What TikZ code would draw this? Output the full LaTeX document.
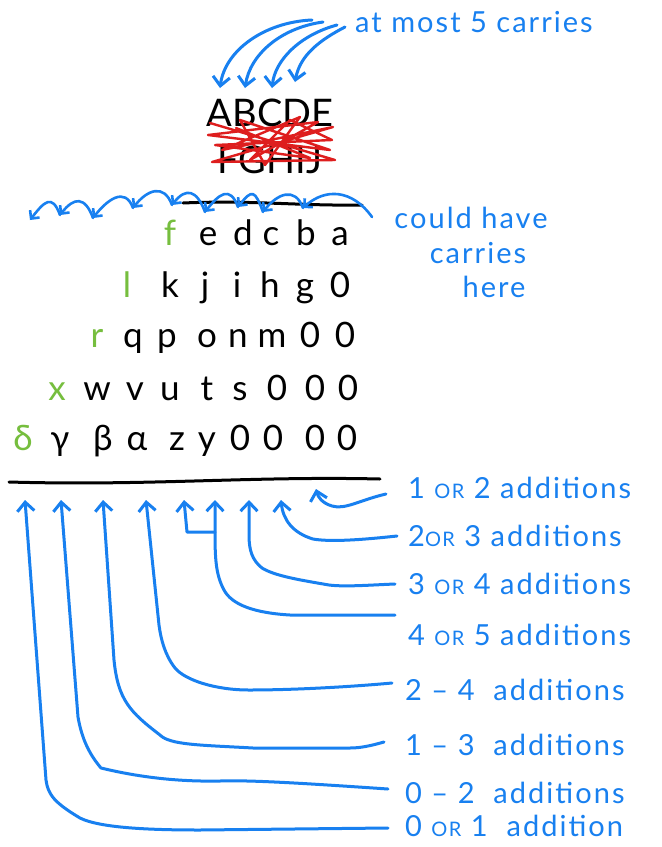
\documentclass[tikz,border=0pt]{standalone}
\usepackage{fontspec}
\setmainfont{Lato}
\newfontfamily\handfont[LetterSpace=7]{Lato}
\usetikzlibrary{arrows.meta,calc}
\definecolor{inkblue}{RGB}{24,128,240}
\definecolor{inkgreen}{RGB}{118,190,62}
\definecolor{inkred}{RGB}{222,30,30}
\newcommand\smallor{{\fontsize{20}{22}\selectfont OR}}
\begin{document}
\begin{tikzpicture}[x=1pt,y=-1pt,
  ink/.style={line width=3pt, line cap=round, line join=round},
  bluepen/.style={ink, draw=inkblue},
  barb/.style={bluepen, -{Straight Barb[length=9pt,width=17pt]}},
  smallbarb/.style={bluepen, line width=2.6pt, -{Straight Barb[length=6pt,width=12pt]}},
  digit/.style={font=\fontsize{35}{40}\selectfont, anchor=base, inner sep=0pt},
  lead/.style={digit, text=inkgreen},
  capsrow/.style={font=\fontsize{38}{44}\selectfont, inner sep=0pt},
  note/.style={font=\handfont\fontsize{29}{33}\selectfont, text=inkblue, inner sep=0pt},
]
\useasboundingbox (0,0) rectangle (662,847);
\fill[white] (0,0) rectangle (662,847);

% the two factors, crossed out
\node[capsrow] (top) at (270,113) {ABCDE};
\node[capsrow] (bot) at (270,160) {FGHIJ};
\draw[ink, draw=inkred, line width=2.4pt]
  (210,123) -- (335,160) -- (212,162) -- (333,127) -- (222,150) -- (300,117)
  -- (265,165) -- (240,120) -- (330,150) -- (208,135) -- (318,122) -- (250,160)
  -- (290,120) -- (332,140) -- (215,145) -- (310,158) -- (236,128);

% carries into the factors
\node[note, anchor=west] (most) at (355,22) {at most 5 carries};
\coordinate (m1) at (312,20);
\coordinate (m2) at (323,22);
\coordinate (m3) at (337,25);
\coordinate (m4) at (345,27);
\coordinate (a1) at (220,88);
\coordinate (a2) at (245,88);
\coordinate (a3) at (272,88);
\coordinate (a4) at (295,82);
\draw[barb] (m1) .. controls (265,22) and (225,50) .. (a1);
\draw[barb] (m2) .. controls (280,28) and (250,55) .. (a2);
\draw[barb] (m3) .. controls (300,35) and (275,60) .. (a3);
\draw[barb] (m4) .. controls (320,40) and (300,55) .. (a4);

% rule under the factors
\draw[ink] (183,203) .. controls (250,200) and (300,206) .. (362,205);

% chain of carries across the first row
\coordinate (c0) at (372,217);
\coordinate (c1) at (303,208);
\coordinate (c2) at (263,212);
\coordinate (c3) at (238,207);
\coordinate (c4) at (205,212);
\coordinate (c5) at (172,205);
\coordinate (c6) at (133,208);
\coordinate (c7) at (93,218);
\coordinate (c8) at (60,215);
\coordinate (c9) at (30,220);
\draw[smallbarb] (c0) .. controls +(-20,-28) and +(22,-20) .. (c1);
\foreach \a/\b in {1/2,2/3,3/4,4/5,5/6,6/7,7/8,8/9}
  \draw[smallbarb] (c\a) .. controls +(-8,-22) and +(14,-18) .. (c\b);

\node[note] (could) at (471,218) {could have};
\node[note] (carr) at (478,253) {carries};
\node[note] (here) at (494,287) {here};

% partial products
\foreach \t/\x [count=\i] in {a/340,b/306,c/271,d/243,e/208}
  \node[digit] (ra\i) at (\x,245) {\t};
\node[lead] (ra6) at (170,245) {f};
\foreach \t/\x [count=\i] in {0/340,g/305,h/270,i/237,j/205,k/170}
  \node[digit] (rb\i) at (\x,297) {\t};
\node[lead] (rb7) at (127,297) {l};
\foreach \t/\x [count=\i] in {0/345,0/310,m/272,n/238,o/207,p/167,q/133}
  \node[digit] (rc\i) at (\x,347) {\t};
\node[lead] (rc8) at (97,347) {r};
\foreach \t/\x [count=\i] in {0/348,0/315,0/277,s/240,t/207,u/170,v/135,w/97}
  \node[digit] (rd\i) at (\x,400) {\t};
\node[lead] (rd9) at (57,400) {x};
\foreach \t/\x [count=\i] in {0/347,0/315,0/273,0/240,y/207,z/177,α/137,β/103,γ/60}
  \node[digit] (re\i) at (\x,450) {\t};
\node[lead] (re10) at (23,450) {δ};

% rule under the partial products
\draw[ink] (9,482) .. controls (150,486) and (250,476) .. (380,479);

% labels for the columns of the sum
\node[note, anchor=west] (l12) at (408,488) {1 \smallor\ 2 additions};
\node[note, anchor=west] (l23) at (408,536) {2\smallor\ 3 additions};
\node[note, anchor=west] (l34) at (408,584) {3 \smallor\ 4 additions};
\node[note, anchor=west] (l45) at (408,635) {4 \smallor\ 5 additions};
\node[note, anchor=west] (l24) at (405,690) {2 – 4 \ additions};
\node[note, anchor=west] (l13) at (405,745) {1 – 3 \ additions};
\node[note, anchor=west] (l02) at (405,793) {0 – 2 \ additions};
\node[note, anchor=west] (l01) at (405,826) {0 \smallor\ 1 \ addition};

\coordinate (t01) at (25,500);
\coordinate (t02) at (61,500);
\coordinate (t13) at (103,500);
\coordinate (t24) at (146,500);
\coordinate (t45b) at (184,500);
\coordinate (t45) at (215,500);
\coordinate (t34) at (249,500);
\coordinate (t23) at (281,500);
\coordinate (t12) at (316,489);
\coordinate (j45) at (215,532);

\draw[barb] ([xshift=-22pt,yshift=-6pt]l12.west) .. controls (360,500) and (345,510) .. (332,506)
  .. controls (322,503) and (318,497) .. (t12);
\draw[barb] ([xshift=-11pt]l23.west) .. controls (360,540) and (330,542) .. (313,539)
  .. controls (293,533) and (283,520) .. (t23);
\draw[barb] ([xshift=-13pt]l34.west) .. controls (370,585) and (345,587) .. (329,585)
  .. controls (300,580) and (275,576) .. (262,568)
  .. controls (252,560) and (249,550) .. (249,535) -- (t34);
\draw[barb] ([xshift=-13pt,yshift=20pt]l45.west) -- (290,615)
  .. controls (255,613) and (232,605) .. (224,590)
  .. controls (216,575) and (215,560) .. (j45) -- (t45);
\draw[barb] (j45) -- (187,532) -- (t45b);
\draw[barb] ([xshift=-13pt,yshift=7pt]l24.west) .. controls (360,686) and (300,690) .. (249,690)
  .. controls (215,690) and (185,680) .. (175,668)
  .. controls (165,655) and (161,640) .. (159,625) -- (t24);
\draw[barb] ([xshift=-21pt,yshift=3pt]l13.west) .. controls (370,746) and (360,748) .. (350,748)
  -- (253,748) .. controls (200,745) and (170,745) .. (160,735)
  .. controls (130,712) and (118,700) .. (114,660) -- (t13);
\draw[barb] ([xshift=-17pt,yshift=4pt]l02.west) .. controls (300,783) and (250,780) .. (220,781)
  .. controls (170,782) and (130,775) .. (101,768)
  .. controls (90,755) and (82,740) .. (78,717) -- (t02);
\draw[barb] ([xshift=-17pt,yshift=-2pt]l01.west) -- (200,830)
  .. controls (150,830) and (100,828) .. (80,818)
  .. controls (55,803) and (48,795) .. (46,780) -- (t01);
\end{tikzpicture}
\end{document}
